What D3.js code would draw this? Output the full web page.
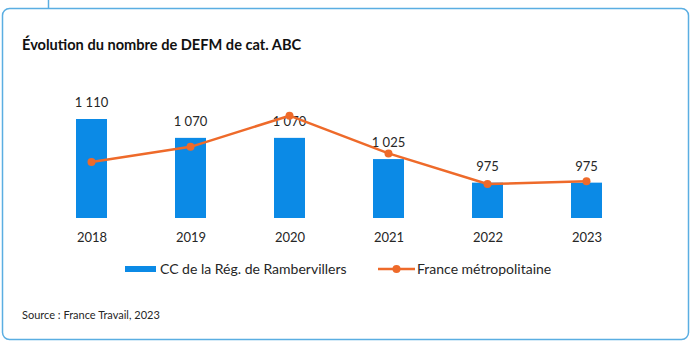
<!DOCTYPE html>
<html>
<head>
<meta charset="utf-8">
<script src="https://cdn.jsdelivr.net/npm/d3@7/dist/d3.min.js"></script>
<style>
  html, body { margin: 0; padding: 0; background: #ffffff; }
  svg { display: block; font-family: Lato, "Open Sans", sans-serif; }
</style>
</head>
<body>
<svg id="chart" width="697" height="342"></svg>
<script>
// Demandeurs d'emploi (cat. ABC) par année
const years = ["2018", "2019", "2020", "2021", "2022", "2023"];
const ccValues = [1110, 1070, 1070, 1025, 975, 975];
const ccLabels = ["1 110", "1 070", "1 070", "1 025", "975", "975"];
// Série France métropolitaine, ramenée à l'échelle du graphique
const franceValues = [1019, 1051, 1117, 1037, 972, 978];
const seriesNames = ["CC de la Rég. de Rambervillers", "France métropolitaine"];

const blue = "#0b8ae6";
const orange = "#ee6a2a";
const ink = "#262626";

const svg = d3.select("#chart");

// Cadre arrondi et trait de liaison
svg.append("line")
  .attr("x1", 48.5).attr("x2", 48.5).attr("y1", 0).attr("y2", 8)
  .attr("stroke", "#5aaee2").attr("stroke-width", 1.5);
svg.append("rect")
  .attr("x", 2.5).attr("y", 8.5).attr("width", 686).attr("height", 331)
  .attr("rx", 7).attr("fill", "#ffffff")
  .attr("stroke", "#5aaee2").attr("stroke-width", 1.5);

svg.append("text")
  .attr("x", 22).attr("y", 50)
  .attr("font-size", 14.6).attr("font-weight", "bold").attr("fill", "#111")
  .text("Évolution du nombre de DEFM de cat. ABC");

const x = d3.scalePoint().domain(years).range([42, 636]).padding(0.5);
const barW = x.step() * 0.313;
const y = d3.scaleLinear().domain([900, 1150]).range([218, 218 - 250 * 0.4714]);

const g = svg.append("g");

g.selectAll("rect.bar")
  .data(years)
  .join("rect")
  .attr("class", "bar")
  .attr("x", (d) => x(d) - barW / 2)
  .attr("width", barW)
  .attr("y", (d, i) => y(ccValues[i]))
  .attr("height", (d, i) => y(900) - y(ccValues[i]))
  .attr("fill", blue);

g.selectAll("text.val")
  .data(years)
  .join("text")
  .attr("class", "val")
  .attr("x", (d) => x(d))
  .attr("y", (d, i) => y(ccValues[i]) - 12)
  .attr("text-anchor", "middle")
  .attr("font-size", 13).attr("fill", ink)
  .text((d, i) => ccLabels[i]);

const line = d3.line()
  .x((d, i) => x(years[i]))
  .y((d) => y(d));

g.append("path")
  .datum(franceValues)
  .attr("d", line)
  .attr("fill", "none")
  .attr("stroke", orange)
  .attr("stroke-width", 2.5)
  .attr("stroke-linejoin", "round");

g.selectAll("circle.pt")
  .data(franceValues)
  .join("circle")
  .attr("class", "pt")
  .attr("cx", (d, i) => x(years[i]))
  .attr("cy", (d) => y(d))
  .attr("r", 4)
  .attr("fill", orange);

// Axe des années (sans trait)
const xAxis = g.append("g")
  .attr("transform", "translate(0,228)")
  .call(d3.axisBottom(x).tickSize(0).tickPadding(0));
xAxis.select(".domain").remove();
xAxis.selectAll("text")
  .attr("font-size", 13).attr("fill", ink)
  .attr("font-family", "Lato, 'Open Sans', sans-serif")
  .attr("dy", "1.1em");

// Légende
const leg = svg.append("g").attr("transform", "translate(0,269)");
leg.append("rect")
  .attr("x", 125).attr("y", -3).attr("width", 31).attr("height", 6)
  .attr("fill", blue);
leg.append("text")
  .attr("x", 160).attr("y", 5)
  .attr("font-size", 14).attr("fill", ink)
  .text(seriesNames[0]);
leg.append("line")
  .attr("x1", 378).attr("x2", 415).attr("y1", 0).attr("y2", 0)
  .attr("stroke", orange).attr("stroke-width", 2.5);
leg.append("circle")
  .attr("cx", 396.5).attr("cy", 0).attr("r", 4).attr("fill", orange);
leg.append("text")
  .attr("x", 417).attr("y", 5)
  .attr("font-size", 14).attr("fill", ink)
  .text(seriesNames[1]);

svg.append("text")
  .attr("x", 22).attr("y", 319)
  .attr("font-size", 11).attr("fill", ink)
  .text("Source : France Travail, 2023");
</script>
</body>
</html>
